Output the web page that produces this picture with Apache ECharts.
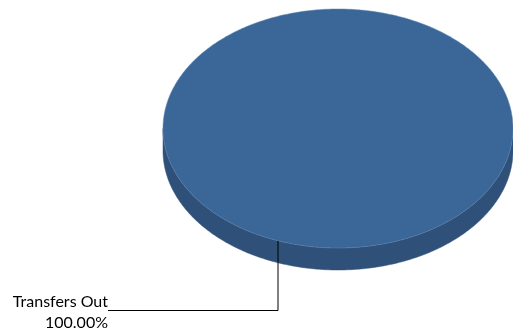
<!DOCTYPE html>
<html>
<head>
<meta charset="utf-8">
<style>
html,body{margin:0;padding:0;background:#fff;}
#chart{width:513px;height:335px;}
</style>
<script src="https://cdn.jsdelivr.net/npm/echarts@6/dist/echarts.min.js"></script>
</head>
<body>
<div id="chart"></div>
<script>
// ---- data ----
var categories = ['Transfers Out'];
var values = [100];
var percentLabels = ['100.00%'];

// ---- layout / style ----
var CX = 338, CY = 128.5, RX = 175, RY = 119.5, DEPTH = 22;
var TOP_COLOR = '#3b6698';
var SIDE_COLOR = '#2f5079';
var LABEL_ANGLE = 110 * Math.PI / 180; // anchor on the rim for the leader line
var total = values.reduce(function (a, b) { return a + b; }, 0);

function pt(theta, dy) {
  return [CX + RX * Math.cos(theta), CY + RY * Math.sin(theta) + (dy || 0)];
}

var chart = echarts.init(document.getElementById('chart'), null, { renderer: 'canvas' });

var seriesData = categories.map(function (c, i) {
  return { name: c, value: [values[i], i] };
});

chart.setOption({
  animation: false,
  series: [{
    type: 'custom',
    coordinateSystem: 'none',
    data: seriesData,
    renderItem: function (params, api) {
      var i = params.dataIndex;
      var before = 0;
      for (var k = 0; k < i; k++) before += values[k];
      var v = api.value(0);
      // start at 12 o'clock, clockwise (screen angles, y down)
      var a0 = -Math.PI / 2 + 2 * Math.PI * before / total;
      var a1 = a0 + 2 * Math.PI * v / total;
      var N = 240;
      var children = [];

      // side (front visible part: sin(theta) > 0)
      var ranges = [];
      [0, 2 * Math.PI].forEach(function (off) {
        var l = Math.max(a0, off), h = Math.min(a1, Math.PI + off);
        if (h > l) ranges.push([l, h]);
      });
      ranges.forEach(function (r) {
        var top = [], bot = [];
        for (var s = 0; s <= N; s++) {
          var t = r[0] + (r[1] - r[0]) * s / N;
          top.push(pt(t, 0));
          bot.push(pt(t, DEPTH));
        }
        children.push({
          type: 'polygon',
          shape: { points: top.concat(bot.reverse()) },
          style: { fill: SIDE_COLOR, stroke: SIDE_COLOR, lineWidth: 0.5 }
        });
      });

      // top face
      var full = (a1 - a0) >= 2 * Math.PI - 1e-9;
      var topPts = full ? [] : [[CX, CY]];
      for (var s2 = 0; s2 <= N * 2; s2++) {
        var t2 = a0 + (a1 - a0) * s2 / (N * 2);
        topPts.push(pt(t2, 0));
      }
      children.push({
        type: 'polygon',
        shape: { points: topPts },
        style: { fill: TOP_COLOR, stroke: '#5f84b0', lineWidth: 0.5 }
      });

      // leader line + label
      var anchor = pt(LABEL_ANGLE, 0);
      var ax = Math.round(anchor[0]);
      children.push({
        type: 'polyline',
        shape: { points: [[ax, anchor[1]], [ax, 310.5], [108, 310.5]] },
        style: { stroke: '#000', lineWidth: 1, fill: null }
      });
      children.push({
        type: 'text',
        style: {
          text: categories[i] + '\n' + percentLabels[i],
          x: 108, y: 291,
          align: 'right',
          verticalAlign: 'top',
          fill: '#000',
          font: '16px Lato',
          lineHeight: 21
        }
      });
      return { type: 'group', children: children };
    }
  }]
});
</script>
</body>
</html>
